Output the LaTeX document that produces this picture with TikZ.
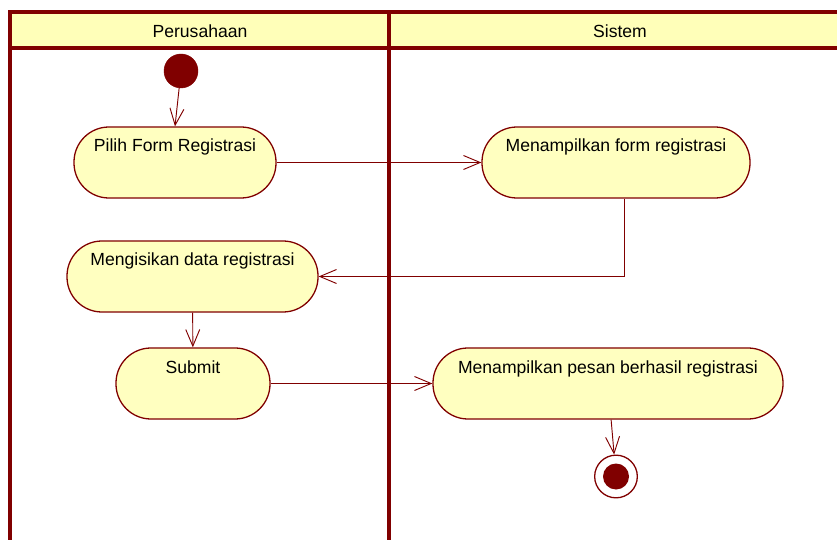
\documentclass[tikz,border=0pt]{standalone}
\usepackage{fontspec}
\setmainfont{Liberation Sans}
\usepackage{xcolor}
\usepackage{tikz}
\usetikzlibrary{arrows.meta}
\usetikzlibrary{calc}
\definecolor{lanecol}{HTML}{800000}
\definecolor{headcol}{HTML}{FFFFB9}
\definecolor{actcol}{HTML}{FFFFC0}
\tikzstyle{lane} = [draw=lanecol, line width=0.12cm]
\tikzstyle{action} = [draw=lanecol, fill=actcol, line width=1.1pt, rectangle, rounded corners=1.05cm, inner xsep=0pt, inner ysep=0pt, text height=0.75cm, text depth=1.38cm, font=\fontsize{15}{18}\selectfont]
\tikzstyle{startnode} = [draw=lanecol, fill=lanecol, circle, inner sep=0pt, minimum size=1.02cm]
\tikzstyle{endnode} = [draw=lanecol, fill=white, circle, line width=1.1pt, inner sep=0pt, minimum size=1.28cm]
\tikzstyle{endcore} = [fill=lanecol, circle, inner sep=0pt, minimum size=0.78cm]
\tikzstyle{flow} = [draw=lanecol, line width=0.8pt, -{Straight Barb[length=0.5cm, width=0.42cm, line width=0.8pt]}]

\begin{document}
\begin{tikzpicture}[x = 0.03cm, y = -0.03cm]
	\useasboundingbox (0, 0) rectangle (837, 540) ;
	
	% swimlanes
	\fill[headcol] (10, 12) rectangle (837, 48) ;
	\draw[lane] (837, 12) -- (10, 12) -- (10, 540) ;
	\draw[lane] (10, 48) -- (837, 48) ;
	\draw[lane] (389, 12) -- (389, 540) ;
	\node[font=\fontsize{15}{18}\selectfont] (lanekiri) at (200, 31) {Perusahaan} ;
	\node[font=\fontsize{15}{18}\selectfont] (lanekanan) at (620, 31) {Sistem} ;
	
	\node[startnode] (start) at (181, 71) {} ;
	
	\node[action, minimum width=6.06cm] (pilih) at (175, 162.5) {Pilih Form Registrasi} ;
	\node[action, minimum width=8.04cm] (tampilform) at (616, 162.5) {Menampilkan form registrasi} ;
	\node[action, minimum width=7.53cm] (isi) at (192.5, 276.5) {Mengisikan data registrasi} ;
	\node[action, minimum width=4.62cm] (submit) at (193, 383.5) {Submit} ;
	\node[action, minimum width=10.5cm] (pesan) at (608, 383.5) {Menampilkan pesan berhasil registrasi} ;
	
	\node[endnode] (end) at (616, 476.5) {} ;
	\node[endcore] (endin) at (end) {} ;
	
	\draw[flow] (start) -- (pilih.north) ;
	\draw[flow] (pilih) -- (tampilform) ;
	\draw[flow] ([xshift=0.24cm]tampilform.south) |- (isi) ;
	\draw[flow] (isi) -- (submit) ;
	\draw[flow] (submit) -- (pesan) ;
	\draw[flow] (pesan) -- (end) ;
	
\end{tikzpicture}
\end{document}
